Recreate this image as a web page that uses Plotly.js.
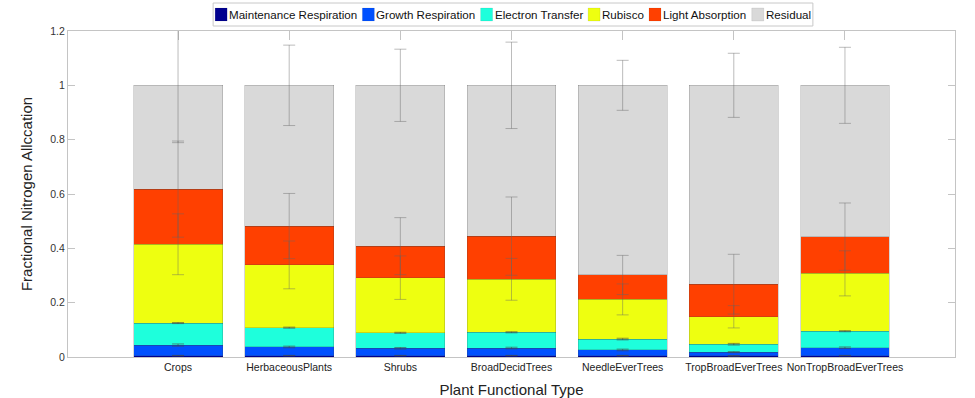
<!DOCTYPE html>
<html>
<head>
<meta charset="utf-8">
<script src="https://cdn.plot.ly/plotly-3.0.1.min.js"></script>
<style>html,body{margin:0;padding:0;background:#fff;}#chart{width:975px;height:398px;}</style>
</head>
<body>
<div id="chart"></div>
<script>
// ---- data ----
const categories = ["Crops","HerbaceousPlants","Shrubs","BroadDecidTrees","NeedleEverTrees","TropBroadEverTrees","NonTropBroadEverTrees"];
const seriesNames = ["Maintenance Respiration","Growth Respiration","Electron Transfer","Rubisco","Light Absorption","Residual"];

const maintenance     = [0.005, 0.005, 0.005, 0.005, 0.005, 0.004, 0.005];
const growth          = [0.039, 0.032, 0.027, 0.028, 0.021, 0.014, 0.029];
const electron        = [0.081, 0.071, 0.057, 0.058, 0.040, 0.029, 0.061];
const rubisco         = [0.290, 0.231, 0.203, 0.195, 0.146, 0.101, 0.213];
const light           = [0.203, 0.143, 0.116, 0.159, 0.090, 0.120, 0.135];
const residual        = [0.382, 0.518, 0.592, 0.555, 0.698, 0.732, 0.557];

const maintenanceErr  = [0.001, 0.001, 0.001, 0.001, 0.001, 0.001, 0.001];
const growthErr       = [0.004, 0.003, 0.003, 0.003, 0.003, 0.002, 0.003];
const electronErr     = [0.002, 0.002, 0.002, 0.002, 0.003, 0.003, 0.002];
const rubiscoErr      = [0.112, 0.088, 0.080, 0.077, 0.057, 0.041, 0.083];
const lightErr        = [0.177, 0.120, 0.105, 0.144, 0.072, 0.110, 0.124];
const residualErr     = [0.211, 0.148, 0.133, 0.159, 0.092, 0.118, 0.140];

const yTickVals = [0, 0.2, 0.4, 0.6, 0.8, 1, 1.2];
const yTickText = ["0", "0.2", "0.4", "0.6", "0.8", "1", "1.2"];

// ---- styles ----
const colors = ["#00008f", "#0050ff", "#1effdc", "#eeff10", "#ff4000", "#d9d9d9"];
const values = [maintenance, growth, electron, rubisco, light, residual];
const errs = [maintenanceErr, growthErr, electronErr, rubiscoErr, lightErr, residualErr];

const barTraces = values.map((v, i) => ({
  type: "bar",
  name: seriesNames[i],
  x: categories,
  y: v,
  width: 0.8,
  marker: { color: colors[i], line: { color: "rgba(60,60,60,0.35)", width: 0.6 } },
  showlegend: false,
  hoverinfo: "skip"
}));

// error bars sit at the top of each stacked segment, drawn above all bars
const cumulative = [];
values.forEach((v, i) => {
  cumulative.push(v.map((val, j) => val + (i > 0 ? cumulative[i - 1][j] : 0)));
});
const errTraces = cumulative.map((c, i) => ({
  type: "scatter",
  mode: "markers",
  x: categories,
  y: c,
  marker: { size: 0.1, color: "rgba(0,0,0,0)" },
  error_y: { type: "data", array: errs[i], symmetric: true,
             color: i < 3 ? "rgba(70,70,70,0.75)" : "rgba(100,100,100,0.55)", thickness: 0.8, width: 6 },
  showlegend: false,
  hoverinfo: "skip",
  cliponaxis: true
}));

// plot area in px
const L = 68, R = 955, T = 31, B = 357;
const W = R - L, H = B - T;
const px = x => (x - L) / W;
const py = y => (B - y) / H;

// custom compact legend like the reference
const legendFont = "Liberation Sans, Arial, sans-serif";
const legendSize = 11.6;
const ctx = document.createElement("canvas").getContext("2d");
ctx.font = legendSize + "px 'Liberation Sans'";
const sq = 12, gapSqText = 2, gapItem = 5, padL = 2, padR = 2;
const textW = seriesNames.map(s => ctx.measureText(s).width);
let total = padL + padR;
textW.forEach((w, i) => { total += sq + gapSqText + w + (i < textW.length - 1 ? gapItem : 0); });
const boxL = 513 - total / 2, boxR = 513 + total / 2;
const shapes = [{
  type: "rect", xref: "paper", yref: "paper",
  x0: px(boxL), x1: px(boxR), y0: py(26), y1: py(3),
  line: { color: "#c8c8c8", width: 1 }, fillcolor: "#ffffff"
}];
const annotations = [];
let cx = boxL + padL;
seriesNames.forEach((name, i) => {
  shapes.push({
    type: "rect", xref: "paper", yref: "paper",
    x0: px(cx), x1: px(cx + sq), y0: py(21), y1: py(8),
    line: { color: "rgba(0,0,0,0.15)", width: 0.5 }, fillcolor: colors[i]
  });
  annotations.push({
    xref: "paper", yref: "paper", x: px(cx + sq + gapSqText - 1), y: py(14.5),
    xanchor: "left", yanchor: "middle", showarrow: false,
    text: name, borderpad: 0,
    font: { family: legendFont, size: legendSize, color: "#111" }
  });
  cx += sq + gapSqText + textW[i] + gapItem;
});

const layout = {
  width: 975, height: 398,
  margin: { l: L, r: 975 - R, t: T, b: 398 - B, pad: 0 },
  paper_bgcolor: "#ffffff", plot_bgcolor: "#ffffff",
  barmode: "stack",
  showlegend: false,
  font: { family: "Liberation Sans, Arial, sans-serif", color: "#222" },
  xaxis: {
    type: "category",
    range: [-0.99, 6.99],
    showgrid: false, zeroline: false,
    showline: true, linecolor: "#c4c4c4", linewidth: 1,
    mirror: "ticks", ticks: "inside", ticklen: 9, tickcolor: "#c4c4c4", tickwidth: 1,
    layer: "below traces",
    tickfont: { size: 10.5, color: "#222" },
    title: { text: "Plant Functional Type", font: { size: 15, color: "#222" }, standoff: 12 },
    automargin: false
  },
  yaxis: {
    range: [0, 1.2],
    tickvals: yTickVals, ticktext: yTickText,
    showgrid: false, zeroline: false,
    showline: true, linecolor: "#c4c4c4", linewidth: 1,
    mirror: "ticks", ticks: "inside", ticklen: 7, tickcolor: "#c4c4c4", tickwidth: 1,
    layer: "below traces",
    tickfont: { size: 10.5, color: "#333" },
    title: { text: "Fractional Nitrogen Allccation", font: { size: 15, color: "#222" }, standoff: 14 },
    automargin: false
  },
  shapes: shapes,
  annotations: annotations
};

Plotly.newPlot("chart", barTraces.concat(errTraces), layout, { displayModeBar: false, staticPlot: true });
</script>
</body>
</html>
